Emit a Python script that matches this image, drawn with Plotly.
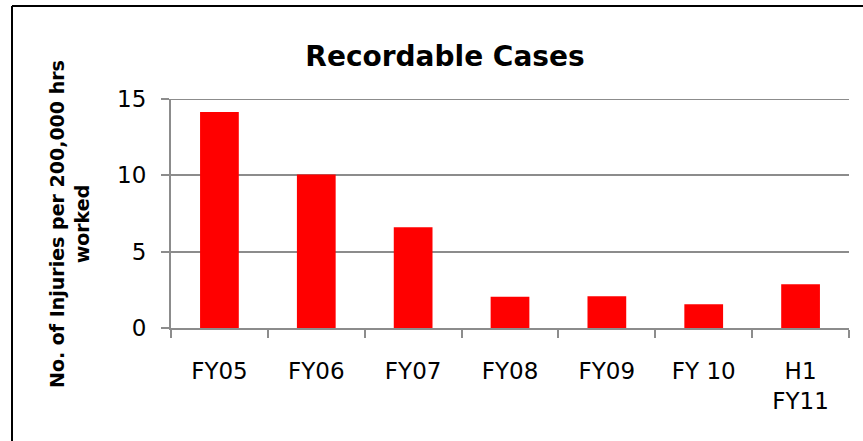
import plotly.graph_objects as go

categories = ["FY05", "FY06", "FY07", "FY08", "FY09", "FY 10", "H1<br>FY11"]
values = [14.15, 10.05, 6.6, 2.05, 2.08, 1.55, 2.87]
y_ticks = [0, 5, 10, 15]

W, H = 863, 441
L, R, T, B = 171, 14, 99, 113
pw, ph = W - L - R, H - T - B

def px_x(p):
    return (p - L) / pw

def px_y(p):
    return (H - B - p) / ph

fig = go.Figure()
fig.add_trace(go.Bar(x=categories, y=values, marker=dict(color="#FF0000", line=dict(width=0))))

grid = "#8c8c8c"
fig.update_layout(
    width=W, height=H,
    margin=dict(l=L, r=R, t=T, b=B),
    plot_bgcolor="white", paper_bgcolor="white",
    bargap=0.6, showlegend=False,
    font=dict(family="DejaVu Sans", color="black"),
    title=dict(text="<b>Recordable Cases</b>", x=445 / W, xref="container", xanchor="center",
               y=1 - 56 / H, yref="container", yanchor="middle",
               font=dict(size=28, family="DejaVu Sans", color="black")),
    xaxis=dict(showline=True, linecolor=grid, linewidth=2, ticks="outside", tickson="boundaries",
               ticklen=8, tickcolor=grid, tickwidth=2, showgrid=False, ticklabelstandoff=21,
               tickfont=dict(size=23, family="DejaVu Sans", color="black")),
    yaxis=dict(range=[0, 15], tickvals=y_ticks, showline=True, linecolor=grid, linewidth=2,
               ticks="outside", ticklen=8, tickcolor=grid, tickwidth=2, ticklabelstandoff=10,
               showgrid=True, gridcolor=grid, gridwidth=2, zeroline=False,
               tickfont=dict(size=23, family="DejaVu Sans", color="black")),
    annotations=[dict(text="<b>No. of Injuries per 200,000 hrs<br>worked</b>", textangle=-90,
                      x=px_x(69), y=px_y(224), xref="paper", yref="paper",
                      xanchor="center", yanchor="middle",
                      showarrow=False, font=dict(size=19, family="DejaVu Sans", color="black"))],
    shapes=[
        dict(type="line", xref="paper", yref="y", x0=0, x1=1, y0=y_ticks[-1], y1=y_ticks[-1],
             line=dict(color=grid, width=2), layer="below"),
        dict(type="line", xref="paper", yref="paper", x0=px_x(12), x1=px_x(12), y0=px_y(6), y1=px_y(445),
             line=dict(color="black", width=2)),
        dict(type="line", xref="paper", yref="paper", x0=px_x(12), x1=px_x(870), y0=px_y(6), y1=px_y(6),
             line=dict(color="black", width=2)),
    ],
)

fig.write_html("out.html", config={"displayModeBar": False},
               post_script="document.body.style.margin='0px';")
